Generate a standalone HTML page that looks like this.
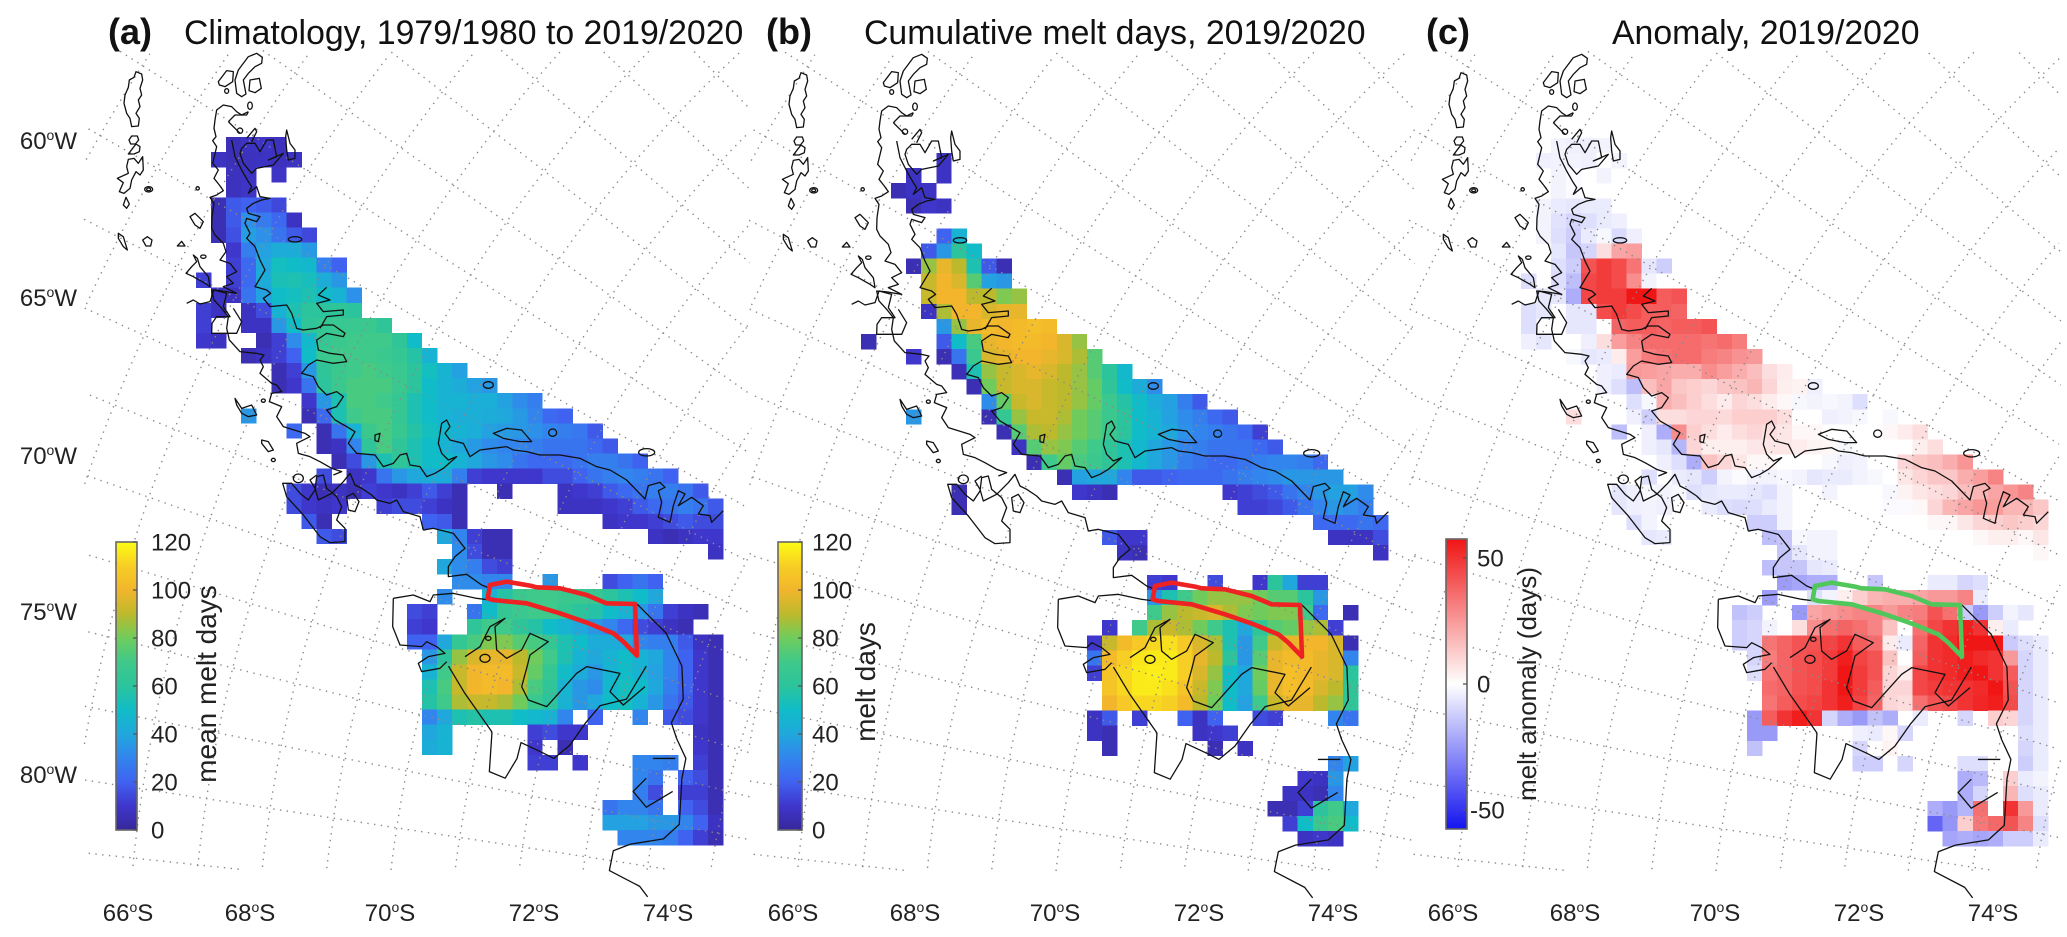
<!DOCTYPE html>
<html lang="en">
<head>
<meta charset="utf-8">
<title>Antarctic Peninsula melt days</title>
<style>
html,body{margin:0;padding:0;background:#fff;width:2067px;height:937px;overflow:hidden}
svg{display:block;position:absolute;left:0;top:0}
text{font-family:"Liberation Sans",Arial,sans-serif;fill:#222}
.coast path,.coast ellipse{fill:none;stroke:#111;stroke-width:1.3;vector-effect:non-scaling-stroke;stroke-linejoin:round}
.title{font-size:33.8px;fill:#111}
.tag{font-size:36px;font-weight:bold;fill:#111}
.tick{font-size:24px}
.sup{font-size:14px}
</style>
</head>
<body>
<svg id="chart" xmlns="http://www.w3.org/2000/svg" width="2067" height="937" viewBox="0 0 2067 937">
<defs>
<g id="coast" class="coast">
<g transform="translate(60,0) scale(0.33333)">
<path d="M245 222L228 215 222 232 208 240 205 262 195 285 192 310 200 340 210 355 215 380 235 378 238 355 228 340 240 320 235 300 245 285 240 265 248 240Z"/>
<path d="M207 420L215 408 232 408 236 420 226 432 212 432Z"/>
<path d="M205 462L218 445 228 432 240 440 238 455 222 462Z"/>
<path d="M248 470L235 490 222 475 205 478 200 500 205 520 172 535 190 548 178 575 192 580 210 565 215 540 228 515 240 525 250 510Z"/>
<ellipse cx="266" cy="568" rx="12" ry="8"/><ellipse cx="266" cy="568" rx="6" ry="4"/>
<path d="M198 592L208 612 200 625 190 615Z"/>
<path d="M175 700L190 710 202 750 190 740 175 715Z"/>
<path d="M248 720L262 710 276 720 272 738 258 738Z"/>
<path d="M352 738L365 724 375 738Z"/>
<path d="M565 170L590 160 607 172 605 190 585 200 565 220 550 240 558 282 545 290 530 280 525 240 535 210Z"/>
<path d="M475 245L500 212 520 215 518 245 495 260 478 255Z"/>
<path d="M570 240L598 235 604 265 585 278 567 272Z"/>
<ellipse cx="500" cy="273" rx="6" ry="7"/>
<ellipse cx="570" cy="317" rx="7" ry="11"/>
<ellipse cx="540" cy="392" rx="8" ry="8"/>
<ellipse cx="413" cy="565" rx="5" ry="5"/>
<ellipse cx="430" cy="770" rx="8" ry="5"/>
<ellipse cx="705" cy="718" rx="20" ry="8"/>
<path d="M565 335L545 345 530 335 515 320 490 315 470 330 465 360 462 385 468 410 458 422 470 440 464 465 458 490 475 510 462 535 478 555 490 572 470 585 450 592 462 610 456 650 455 685 465 705 490 730 498 755 480 780 510 790 530 815 500 830 520 850 490 860 530 880 480 872 455 870 462 900 485 925 505 950 500 985 508 1020 540 1055 590 1060 612 1065 600 1080 610 1100 600 1120 635 1150 650 1155 665 1175 635 1180 628 1205 665 1220 650 1250 670 1280 735 1300 750 1310 710 1330 715 1360 750 1370 780 1385 815 1405 845 1415 820 1425"/>
<path d="M770 1425L750 1440 765 1465 775 1500 815 1480 850 1445 870 1420 885 1455 905 1465 935 1485 950 1500 990 1510 1010 1500 1030 1535 1080 1550 1090 1590 1120 1585 1180 1600 1215 1645 1185 1670 1165 1700 1165 1730 1220 1723 1265 1755 1290 1765"/>
<path d="M860 1490L880 1480 897 1505 885 1535 865 1530Z"/>
<path d="M505 365L525 345 560 345 565 335M505 365L525 385 540 400M560 415L585 385 590 395 575 425"/>
<path d="M545 445L560 430 585 430 600 455 620 420 640 420 650 470 625 480 670 460 640 495 590 505 575 520 550 490 540 460Z"/>
<path d="M680 390L690 430 705 450 705 475 685 480 680 450 677 410Z"/>
<path d="M515 420L525 470 545 510 565 545 575 560 565 580 590 560 600 590 630 595 605 600 580 610 560 625 565 640 600 650 590 665 560 655 555 670 570 700 560 715 585 740 600 780 615 810 585 860 620 870 632 880 610 895 630 920 680 915 695 940 710 985 730 990 770 985 790 975 820 975 855 1000 850 1010 800 1000 770 1020 775 1050 810 1060 850 1065 860 1085 820 1090 770 1080 745 1095 725 1120 760 1130 775 1160 800 1185 830 1175 850 1190 830 1220 800 1230 825 1260 860 1280 885 1295 865 1330 890 1360 945 1365 970 1400 1000 1390 1020 1365 1040 1360 1050 1395 1080 1400 1100 1430 1125 1420 1150 1405 1190 1370 1165 1380 1145 1360 1135 1330 1145 1270 1160 1260 1170 1280 1155 1300 1170 1320 1210 1330 1230 1370 1260 1350 1300 1345 1340 1340 1360 1350 1400 1355 1440 1365 1500 1365 1560 1375 1610 1400 1650 1410 1700 1440 1755 1497 1765 1457 1800 1447 1815 1462 1795 1472 1805 1507 1795 1552 1830 1567 1840 1517 1855 1472 1875 1482 1855 1517 1895 1492 1930 1517 1915 1542 1950 1547 1955 1567 1990 1532"/>
<path d="M800 862L775 885 810 900 770 910 790 935 850 930 850 945 800 950 780 985"/>
<path d="M1300 1300L1340 1285 1385 1290 1415 1325 1380 1325 1330 1315Z"/>
<ellipse cx="1285" cy="1155" rx="15" ry="10"/>
<ellipse cx="1478" cy="1298" rx="12" ry="11"/>
<ellipse cx="1760" cy="1357" rx="24" ry="11"/>
<path d="M378 820L395 800 410 785 400 765 412 775 420 800 445 830 450 860 435 850 400 830Z"/>
<path d="M390 650L405 640 430 665 420 685 405 675Z"/>
<path d="M380 910L400 900 420 912 450 905 462 870 500 880 490 920 510 950 470 950 456 970 455 1000 500 1000 530 1000 545 965 520 925"/>
<path d="M668 1450L695 1450 720 1480 745 1500 765 1470 770 1430 790 1425 800 1465 830 1490 845 1520 830 1560 855 1585 855 1625 810 1628 780 1610 730 1545 680 1490Z"/>
<ellipse cx="715" cy="1435" rx="15" ry="13"/>
<path d="M605 1320L625 1325 640 1350 625 1355 605 1330Z"/>
<ellipse cx="640" cy="1380" rx="6" ry="5"/>
<ellipse cx="610" cy="1202" rx="6" ry="5"/>
<path d="M525 1195L545 1225 575 1215 590 1245 565 1250 545 1240 530 1215Z"/>
<path d="M945 1305L960 1300 955 1325 945 1322Z"/>
<path d="M1000 1795L1060 1785 1110 1805 1120 1785 1180 1780 1250 1795 1290 1800"/>
<path d="M1000 1795L998 1880 1020 1935 1085 1940 1100 1925 1130 1940 1155 1960 1105 1970 1075 1990 1085 2015 1140 2005 1160 1985"/>
<path d="M1215 1970L1260 1940 1290 1880 1335 1855 1305 1880 1310 1950 1340 1975 1385 1950 1410 1900 1465 1925 1410 1965 1400 2005 1385 2060 1405 2100 1460 2120 1550 2020 1580 2000 1680 2020 1650 2075 1690 2115 1755 2060"/>
<ellipse cx="1275" cy="1975" rx="15" ry="12"/>
<ellipse cx="1285" cy="1915" rx="8" ry="6"/>
</g>
<g transform="scale(1.319)">
<path d="M373 555L371 585 383 590 392 575 395 563 410 570 420 575 432 565 444 548 455 535 475 530 490 505"/>
<path d="M340 505L352 525 373 555"/>
<path d="M483 458L495 470 505 480 517 505 518 530 509 548 513 560 520 575 517 590 515 625 503 636 478 640 465 645 462 660 485 672 491 680"/>
<path d="M490 590L480 600 490 612 510 600M495 575L512 575"/>
</g>
</g>
</defs>
</svg>
<script>
const _ = null;
// first number of each row = starting grid column; remaining numbers = melt days for successive columns
const climatologyDays = [
[2,6,8,9,7],[1,8,6,7,8,7,8],[2,7,8,_,9],[2,7,9],[1,5,18,20,18,14],[1,5,18,33,27,22,8],[1,5,16,37,33,25,18,14],[2,10,28,38,42,42,36],
[2,12,22,40,52,50,48,28,20],[0,12,_,12,22,42,54,55,53,42,35],[1,8,8,25,38,50,52,55,50,45,33],[0,12,8,_,8,15,45,55,60,60,62,60],
[0,12,_,_,8,8,35,50,62,65,67,67,68,62],[0,10,8,_,_,5,12,32,48,65,68,70,70,70,62,50],[3,5,8,12,20,50,68,70,70,70,68,65,58,45],
[5,5,12,35,62,68,70,72,70,67,60,52,45,38],[5,5,10,25,60,68,72,72,72,68,60,50,45,42,38,35],[7,10,35,55,72,72,70,65,55,50,45,45,43,43,38,32,28],
[3,35,_,_,_,5,22,55,70,72,72,65,55,50,45,43,43,42,40,36,30,22,20],[6,22,_,5,25,45,68,72,66,58,52,48,45,43,38,36,35,33,30,28,26,18],
[8,5,8,30,62,72,62,55,50,45,40,36,32,30,30,28,25,25,25,22,18],[9,5,15,35,55,62,55,50,50,45,40,35,32,25,22,22,22,25,28,28,25,20],
[8,15,_,8,10,25,35,40,42,42,28,12,10,10,10,10,15,15,20,25,28,30,28,25,20],[6,15,10,5,8,5,12,10,8,12,18,12,5,_,_,5,_,_,_,8,10,12,18,22,25,28,28,25,18],
[6,15,10,8,10,_,_,12,15,15,12,8,5,_,_,_,_,_,_,8,8,8,10,12,18,22,25,28,25,18],[7,18,5,_,_,_,_,_,_,20,18,5,_,_,_,_,_,_,_,_,_,8,10,10,12,15,18,15,15],
[8,18,15,_,_,_,_,_,_,40,30,12,5,5,_,_,_,_,_,_,_,_,_,8,5,8,10,10],[17,32,15,5,5,_,_,_,_,_,_,_,_,_,_,_,_,_,8],[16,40,32,28,15,12],
[17,32,32,30,30,_,_,35,_,_,_,15,20,25,20],[16,32,_,_,45,58,68,70,70,68,68,66,60,55,50,40],[14,15,12,_,_,25,50,65,68,70,70,65,60,58,50,45,35,25,12,8,6],
[14,12,10,_,_,62,70,70,62,58,50,45,40,35,30,22,15,12,8,5],[14,20,20,40,65,72,82,82,75,72,65,55,50,42,42,40,30,28,28,18,8,5],
[15,35,60,85,95,98,98,90,80,70,55,45,40,45,50,45,40,30,20,10,5],[15,45,70,92,100,102,102,92,78,65,50,42,35,45,50,45,38,30,20,10,5],
[15,55,72,92,100,102,100,88,72,62,45,35,32,48,52,50,40,28,20,10,5],[15,58,70,88,92,92,88,80,68,60,45,35,40,50,52,45,35,25,18,10,5],
[15,30,40,55,58,55,55,50,48,45,30,_,20,_,_,30,_,18,15,10,5],[15,40,45,_,_,_,_,_,12,15,10,10,_,_,_,_,_,_,_,8,5],[15,42,45,_,_,_,_,_,10,_,5,_,_,_,_,_,_,_,_,10,5],
[22,12,12,_,10,_,_,_,30,30,28,_,12,5],[29,30,25,_,20,15,5],[29,28,15,_,12,12,5],[27,25,30,30,25,_,20,15,5],[27,38,38,38,35,35,30,20,8],[28,30,30,30,28,20,12,5]
];
const seasonDays = [
[],[5,8],[3,8,_,8],[2,5,8,8],[3,5,10,8],[],[5,20,45],[4,18,35,60,50],[3,5,85,98,90,55,18,5],[4,92,100,95,75,38,35],[4,92,100,100,90,90,82,85],[4,8,88,100,100,95,98,98],
[5,35,85,98,102,100,102,104,102],[0,5,_,_,_,_,18,50,72,98,100,102,102,100,95,85],[3,10,_,5,25,68,95,98,100,100,98,95,88,75],[6,6,55,85,92,95,98,95,90,85,75,60,48],
[7,5,80,92,95,95,92,90,85,78,62,50,42,32],[8,32,78,92,95,92,90,85,78,68,58,50,42,38,28,18],[3,35,_,_,_,_,5,65,85,92,92,88,80,75,68,60,50,45,38,32,28,22,18],
[9,5,75,88,90,85,80,75,68,60,50,45,40,33,30,28,25,22,12],[10,8,75,85,82,75,70,62,55,48,40,35,30,28,25,25,25,22,18],[11,5,70,78,72,68,62,55,48,40,35,28,25,22,22,25,28,30,30,28,22],
[13,5,38,40,40,30,18,18,20,22,22,22,25,28,30,32,35,35,35,35],[6,5,_,_,_,_,_,_,_,10,8,5,_,_,_,_,_,_,_,10,12,15,18,25,30,35,38,38,32],
[6,5,_,_,_,_,_,_,_,_,_,_,_,_,_,_,_,_,_,_,12,12,14,18,25,30,35,32,28],[30,22,22,22,25,22],[16,18,10,10,_,_,_,_,_,_,_,_,_,_,_,_,8,8,8,15],[17,8,5,_,_,_,_,_,_,_,_,_,_,_,_,_,_,_,8],[],
[19,12,10,_,_,15,_,_,10,60,40,12,12],[19,35,55,70,80,85,85,85,80,75,75,60,35],[19,70,85,90,92,95,88,82,80,82,82,70,22,_,5],[16,10,_,70,88,92,88,80,70,55,40,62,75,78,85,88,12],
[15,10,92,102,108,112,114,108,95,88,55,35,70,92,98,100,100,95,5],[15,25,102,110,115,116,116,110,98,90,60,35,75,98,102,102,98,95,30],[15,12,106,112,116,117,116,110,95,85,50,40,80,98,104,102,98,95,60],
[16,106,112,116,116,114,106,92,82,50,40,78,98,104,102,95,90,62],[16,100,108,112,112,110,102,90,80,50,38,70,92,98,98,90,85,62],[15,8,18,_,12,_,_,20,8,20,_,_,15,12,_,_,_,30,25],
[15,8,5,_,_,_,_,_,8,10,12],[16,5,_,_,_,_,_,_,5,_,8],[31,30,38],[29,10,8,35],[28,8,8,5,30],[27,5,5,12,60,70,40],[28,12,50,68,72,50],[29,8,10,8]
];
const anomalyDays = [
[2,-3,-4,-4,-3],[1,-4,-3,-3,-4,0,-3],[2,-3,-1,_,-3],[2,-3,-1],[1,-3,-5,-6,-5,-5],[1,-3,-7,-10,-8,-5,-4],[1,-3,-8,-12,-5,-2,-9,-4],[2,-6,-14,-10,8,22,24],
[2,-8,-12,42,48,44,34,-6,-12],[0,-8,_,-8,-16,45,48,44,28,-3,0],[1,-6,-6,-20,45,48,48,57,57,40,42],[0,-8,-6,_,-6,-6,44,48,44,40,40,38],
[0,-8,_,_,-6,-6,0,38,40,40,38,40,40,42],[0,-4,-6,_,_,-4,8,24,30,36,36,36,36,34,36,32],[3,-2,-6,-5,5,24,32,34,36,36,32,30,27,25],[5,-4,-5,25,24,22,20,20,28,24,20,16,8,5],
[5,-4,-8,-16,16,22,14,12,10,14,15,18,10,4,3,-4],[7,-8,-2,20,16,12,8,5,10,8,5,2,-2,-3,-2,-3,-8],[3,8,_,_,_,-4,-12,8,8,10,10,9,12,12,12,8,0,0,-4,-3,-2,0,-2],
[6,-16,_,-4,-20,28,12,8,5,8,10,8,6,2,2,0,0,0,0,2,5,8],[8,-4,-6,-18,10,4,4,4,6,6,6,5,3,2,-2,0,0,0,0,4,8],[9,-4,-8,-20,15,10,6,2,2,0,0,0,-2,-4,-3,0,0,10,14,16,20,26],
[8,-8,_,-5,-6,-12,-3,-1,-3,-3,-2,-3,-6,-5,-5,-3,-2,0,6,10,14,14,20,24,30],[6,-6,-4,-2,-3,-2,-8,-6,-5,-5,-6,-8,-3,_,_,-3,_,_,_,-2,3,6,8,10,16,18,22,26,30],
[6,-6,-4,-3,-4,_,_,-5,-8,-9,-8,-5,-3,_,_,_,_,_,_,-1,-1,2,10,18,22,26,24,18,18,14],[7,-8,-3,_,_,_,_,_,_,-12,-12,-3,_,_,_,_,_,_,_,_,_,2,2,6,10,12,14,12,10],
[8,-6,-5,_,_,_,_,_,_,-16,-14,-2,-3,-3,_,_,_,_,_,_,_,_,_,2,4,4,2,6],[17,-14,-6,-3,-3,_,_,_,_,_,_,_,_,_,_,_,_,_,2],[16,-16,-14,-14,-6,-5],
[17,-24,-22,-20,-20,_,_,-14,_,_,_,-5,-5,-10,-8],[16,-24,_,_,-8,-3,4,12,18,20,20,22,25,25,30,-5],[14,-15,-12,_,_,-25,22,25,28,30,30,25,30,32,42,35,-13,-25,-12,-3,-6],
[14,-12,-10,-3,_,8,28,35,38,35,30,15,0,35,45,50,55,50,4,-5],[14,-12,-10,34,38,42,42,46,50,40,36,5,-5,38,50,52,57,57,57,-13,-8,-5],
[15,-10,32,38,42,44,48,55,46,42,15,0,40,50,52,55,52,50,25,-10,-5],[15,-8,34,38,42,44,48,57,48,42,10,5,45,50,52,55,57,50,40,-10,-5],[16,36,38,42,44,50,57,48,40,10,10,45,48,50,50,52,57,42,-10,-5],
[16,34,40,44,46,50,55,46,38,10,8,35,42,45,50,53,55,44,-10,-5],[15,-25,40,50,55,50,-10,-20,-25,-15,-20,_,-5,_,_,-10,_,12,10,-10,-5],[15,-25,-25,_,_,_,_,_,-4,-5,2,-10,_,_,_,_,_,_,_,-8,-5],
[15,-15,_,_,_,_,_,_,-10,_,3,_,_,_,_,_,_,_,_,-10,-5],[22,-12,-12,_,-10,_,_,_,-8,-8,0,_,-12,-5],[29,-20,-17,_,12,-5,-3],[29,-20,-10,_,18,-8,-5],[27,-20,-25,-18,35,_,50,25,-5],[27,-38,-26,12,33,37,42,30,-8],[28,-22,-20,-22,-20,-12,-12,-5]
];
const meltTicks = [0,20,40,60,80,100,120];
const anomalyTicks = [-50,0,50];
const meridianLons = [45,47.5,50,52.5,55,57.5,60,62.5,65,67.5,70,72.5,75,77.5,80,82.5,85,87.5];
const parallelLats = [60,61,62,63,64,65,66,67,68,69,70,71,72,73,74,75,76,77];
const longitudeLabels = [60,65,70,75,80];
const longitudeLabelY = [140,297,455,611,774];
const latitudeLabels = [66,68,70,72,74];
const latitudeLabelX = [128,250,390,534,668];

const NS = 'http://www.w3.org/2000/svg';
const svg = document.getElementById('chart');
const meltStops = [[0,'#37279a'],[10,'#3f36cc'],[20,'#3f62f0'],[30,'#3385ee'],[40,'#20a8dc'],[50,'#10bcc8'],[60,'#2bc49c'],[70,'#3fc98a'],[80,'#6fcc5c'],[90,'#bdb92c'],[100,'#f2b52c'],[110,'#f7ce24'],[120,'#fdfc14']];
const anomalyStops = [[-57.5,'#1414f0'],[0,'#ffffff'],[57.5,'#f01414']];
function hex(c){return [1,3,5].map(i=>parseInt(c.substr(i,2),16));}
function colorFor(stops,v){
  v=Math.max(stops[0][0],Math.min(stops[stops.length-1][0],v));
  for(let i=1;i<stops.length;i++){
    if(v<=stops[i][0]){
      const t=(v-stops[i-1][0])/(stops[i][0]-stops[i-1][0]);
      const a=hex(stops[i-1][1]),b=hex(stops[i][1]);
      return 'rgb('+a.map((x,k)=>Math.round(x+(b[k]-x)*t)).join(',')+')';
    }
  }
  return stops[stops.length-1][1];
}
function el(tag,attrs,parent){
  const e=document.createElementNS(NS,tag);
  for(const k in attrs)e.setAttribute(k,attrs[k]);
  (parent||svg).appendChild(e);
  return e;
}
const xCol = c => 196 + 15.06*c;
const yRow = r => 137 + 15.07*r;
const poleX = 1633, poleY = 1017;
const radiusOf = lat => 7093*Math.tan((90-lat)/2*Math.PI/180);
const angleOf = lon => (19.3+(70-lon)*1.06)*Math.PI/180;
function graticule(parent,dx){
  const xMax=Math.min(752,2062-dx);
  const inside=(x,y)=>x>=84&&x<=xMax&&y>=50&&y<=870;
  const g=el('g',{fill:'none',stroke:'#8a8a8a','stroke-width':1.4,'stroke-dasharray':'1.4 5.4'},parent);
  
  
  meridianLons.forEach(lon=>{
    const a=angleOf(lon),pts=[];
    for(let lat=58;lat<=78;lat+=0.1){
      const r=radiusOf(lat),x=poleX-r*Math.cos(a),y=poleY-r*Math.sin(a);
      if(inside(x,y))pts.push(x.toFixed(1)+','+y.toFixed(1));
    }
    if(pts.length<2)return;
    const l=el('polyline',{points:pts.join(' ')},g);
    
    
  });
  parallelLats.forEach(lat=>{
    const r=radiusOf(lat),pts=[];
    for(let d=-10;d<=60;d+=0.25){
      const a=d*Math.PI/180,x=poleX-r*Math.cos(a),y=poleY-r*Math.sin(a);
      if(inside(x,y))pts.push(x.toFixed(1)+','+y.toFixed(1));
    }
    if(pts.length<2)return;
    const l=el('polyline',{points:pts.join(' ')},g);
    
    
  });
}
function panel(name,dx,dy,rows,stops,outlineColor){
  const g=el('g',{transform:'translate('+dx+','+dy+')'});
  
  
  rows.forEach((row,r)=>{
    row.slice(1).forEach((v,i)=>{
      if(v===null)return;
      const c=row[0]+i;
      const cell=el('rect',{x:xCol(c),y:yRow(r),width:15.4,height:15.4,fill:colorFor(stops,v),'shape-rendering':'crispEdges'},g);
      
      
    });
  });
  graticule(g,dx);
  const coast=el('use',{href:'#coast'},g);
  
  
  const box=el('path',{d:'M1290 1755L1340 1745 1410 1757 1430 1762 1500 1765 1580 1785 1640 1810 1725 1812 1731 1967 1690 1925 1660 1900 1581 1868 1500 1840 1400 1810 1300 1800 1283 1795Z',transform:'translate(60,0) scale(0.33333)',fill:'none',stroke:outlineColor,'stroke-width':4.6,'vector-effect':'non-scaling-stroke','stroke-linejoin':'round'},g);
  
  
  latitudeLabels.forEach((lat,i)=>{
    const t=el('text',{x:latitudeLabelX[i],y:921-dy,'text-anchor':'middle',class:'tick'},g);
    t.innerHTML=lat+'<tspan class="sup" dy="-9">o</tspan><tspan dy="9">S</tspan>';
    
    
  });
}
panel('climatology',0,0,climatologyDays,meltStops,'#ee2222');
panel('cumulative',665,1,seasonDays,meltStops,'#ee2222');
panel('anomaly',1325,1,anomalyDays,anomalyStops,'#4fc75a');

longitudeLabels.forEach((lon,i)=>{
  const t=el('text',{x:77,y:longitudeLabelY[i]+9,'text-anchor':'end',class:'tick'});
  t.innerHTML=lon+'<tspan class="sup" dy="-9">o</tspan><tspan dy="9">W</tspan>';
  
  
});

function colorbar(name,x,y0,y1,stops,ticks,valueMin,valueMax,label,labelX,labelCy,tickX,labelSize,w){
  const id=name+'-grad';
  const defs=svg.querySelector('defs');
  const grad=el('linearGradient',{id:id,x1:0,y1:1,x2:0,y2:0},defs);
  stops.forEach(s=>{
    el('stop',{offset:(s[0]-stops[0][0])/(stops[stops.length-1][0]-stops[0][0]),'stop-color':s[1]},grad);
  });
  const bar=el('rect',{x:x,y:y0,width:w,height:y1-y0,fill:'url(#'+id+')',stroke:'#666','stroke-width':1.6});
  
  
  const yv=v=>y1-(v-valueMin)/(valueMax-valueMin)*(y1-y0);
  ticks.forEach(v=>{
    const tk=el('line',{x1:x+w-4,x2:x+w,y1:yv(v),y2:yv(v),stroke:'#555','stroke-width':1.3});
    
    
    const t=el('text',{x:v<0?tickX-7:tickX,y:yv(v)+8.5,class:'tick'});
    t.textContent=v<0?'-'+Math.abs(v):String(v);
    
    
  });
  const lab=el('text',{x:labelX,y:labelCy,'text-anchor':'middle','font-size':labelSize,transform:'rotate(-90 '+labelX+' '+labelCy+')'});
  lab.textContent=label;
  
  
}
colorbar('climatology-colorbar',116,542,830,meltStops,meltTicks,0,120,'mean melt days',216,684,151,28,21);
colorbar('cumulative-colorbar',778,542,830,meltStops,meltTicks,0,120,'melt days',875,682,812,28,24);
colorbar('anomaly-colorbar',1446,539,829,anomalyStops,anomalyTicks,-57.5,57.5,'melt anomaly (days)',1536,684,1477,26,21);

const titles=[['(a)',108,'tag','panel-a-tag'],['Climatology, 1979/1980 to 2019/2020',184,'title','panel-a-title'],['(b)',766,'tag','panel-b-tag'],['Cumulative melt days, 2019/2020',864,'title','panel-b-title'],['(c)',1426,'tag','panel-c-tag'],['Anomaly, 2019/2020',1612,'title','panel-c-title']];
titles.forEach(d=>{
  const t=el('text',{x:d[1],y:44,class:d[2]});
  t.textContent=d[0];
  
  
});
</script>
</body>
</html>
